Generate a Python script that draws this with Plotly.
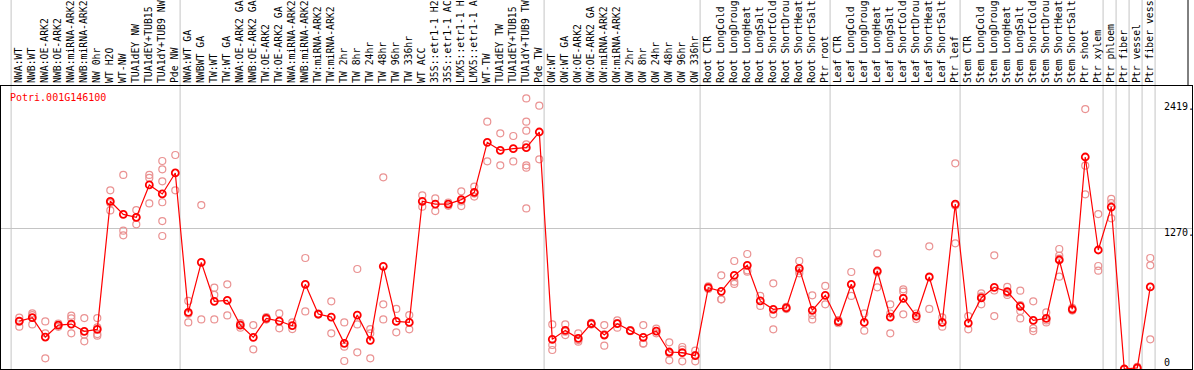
import plotly.graph_objects as go

labels = [
    "NWA:WT", "NWB:WT", "NWA:OE-ARK2", "NWB:OE-ARK2", "NWA:miRNA-ARK2", "NWB:miRNA-ARK2",
    "NW 0hr", "WT H2O", "WT-NW", "TUA1dEY NW", "TUA1dEY+TUB15", "TUA1dY+TUB9 NW", "Pde NW",
    "NWA:WT GA", "NWBWT GA", "TW:WT", "TW:WT GA", "NWA:OE-ARK2 GA", "NWB:OE-ARK2 GA",
    "TW:OE-ARK2", "TW:OE-ARK2 GA", "NWA:miRNA-ARK2", "NWB:miRNA-ARK2", "TW:miRNA-ARK2",
    "TW:miRNA-ARK2", "TW 2hr", "TW 8hr", "TW 24hr", "TW 48hr", "TW 96hr", "TW 336hr", "WT ACC",
    "35S::etr1-1 H2", "35S::etr1-1 AC", "LMX5::etr1-1 H", "LMX5::etr1-1 A", "WT-TW",
    "TUA1dEY TW", "TUA1dEY+TUB15", "TUA1dY+TUB9 TW", "Pde TW",
    "OW:WT", "OW:WT GA", "OW:OE-ARK2", "OW:OE-ARK2 GA", "OW:miRNA-ARK2", "OW:miRNA-ARK2",
    "OW 2hr", "OW 8hr", "OW 24hr", "OW 48hr", "OW 96hr", "OW 336hr",
    "Root CTR", "Root LongCold", "Root LongDroug", "Root LongHeat", "Root LongSalt",
    "Root ShortCold", "Root ShortDrou", "Root ShortHeat", "Root ShortSalt", "Ptr root",
    "Leaf CTR", "Leaf LongCold", "Leaf LongDroug", "Leaf LongHeat", "Leaf LongSalt",
    "Leaf ShortCold", "Leaf ShortDrou", "Leaf ShortHeat", "Leaf ShortSalt", "Ptr leaf",
    "Stem CTR", "Stem LongCold", "Stem LongDroug", "Stem LongHeat", "Stem LongSalt",
    "Stem ShortCold", "Stem ShortDrou", "Stem ShortHeat", "Stem ShortSalt", "Ptr shoot",
    "Ptr xylem", "Ptr phloem", "Ptr fiber", "Ptr vessel", "Ptr fiber vess",
]

group_sizes = [13, 28, 12, 10, 10, 11, 1, 1, 1, 1]

means = [
    432, 462, 288, 396, 405, 339, 357, 1511, 1393, 1366, 1658, 1577, 1766,
    510, 961, 610, 619, 396, 285, 456, 432, 390, 763, 495, 468, 231, 486, 258,
    925, 429, 420, 1511, 1486, 1486, 1526, 1592, 2042, 1970, 1985, 1994, 2135,
    267, 348, 276, 408, 306, 408, 345, 285, 342, 153, 147, 120,
    733, 700, 844, 934, 613, 538, 550, 907, 529, 664,
    426, 763, 420, 883, 468, 637, 477, 829, 420, 1486,
    414, 640, 736, 697, 565, 438, 456, 982, 538, 1910, 1072,
    1459, 0, 10, 739,
]

replicates = [
    [462, 426, 381], [501, 486, 402], [429, 321, 96], [380, 396, 410], [480, 456, 321],
    [459, 249, 310], [459, 375, 315, 300], [1610, 1429, 1495], [1748, 1246, 1204],
    [1432, 1303, 1366], [1748, 1721, 1492], [1874, 1799, 1691, 1502, 1333, 1198], [1928, 1610],
    [613, 420, 497], [1477, 447], [733, 667, 447], [763, 483], [402, 372, 414], [396, 177],
    [445, 456, 467], [501, 366], [420, 360], [1000, 519], [500, 490], [610, 321],
    [420, 201, 72], [901, 402, 150], [360, 321, 96], [1727, 583, 447], [541, 330], [486, 357],
    [1565, 1462], [1538, 1423], [1500, 1470], [1601, 1468, 1510], [1643, 1553, 1580],
    [2228, 1871], [2123, 1835], [2099, 1870], [2438, 2228, 2147, 2024, 1835, 1814, 1447],
    [2372, 1889],
    [402, 216, 171], [402, 306, 336], [321, 246, 261], [400, 416, 408], [396, 210, 312],
    [438, 372, 414], [340, 350, 345], [396, 231, 228], [321, 363], [240, 78, 141],
    [198, 69, 174], [165, 69, 126],
    [745, 721], [844, 628, 628], [973, 787, 766], [1036, 877, 889], [658, 568],
    [772, 493, 357], [540, 560], [973, 862, 886], [664, 486, 447], [748, 583],
    [440, 412], [874, 658], [501, 345], [1042, 736, 871], [583, 321, 500], [718, 697, 493],
    [500, 450], [1105, 541], [465, 381], [1853, 1132, 1473],
    [477, 357], [682, 583, 655], [1024, 477, 707], [739, 667, 685], [706, 523, 456, 575],
    [610, 366, 342], [510, 420, 438], [1081, 1021, 832, 994], [550, 526],
    [2342, 1832, 1574], [1396, 928, 886],
    [1532, 1495, 1357], [0, 0, 0], [20, 10, 0], [1000, 934, 267],
]

gene_id = "Potri.001G146100"
ytick_vals = [0, 1270, 2419]
ytick_text = ["0", "1270.", "2419."]

FONT = "DejaVu Sans Mono"
W, H = 1194, 370
ML, MR, MT, MB = 1, 2, 86, 1
X_RANGE = [-1.408, 90.21]
Y_RANGE = [0, 2549.5]
plot_w = W - ML - MR
plot_h = H - MT - MB

idx = list(range(len(labels)))
rep_x, rep_y = [], []
for i, reps in enumerate(replicates):
    for v in reps:
        rep_x.append(i)
        rep_y.append(v)

fig = go.Figure()
fig.add_trace(go.Scatter(
    x=rep_x, y=rep_y, mode="markers",
    marker=dict(symbol="circle-open", size=7, color="#ea9292", line=dict(width=1.2)),
    hoverinfo="skip", cliponaxis=True,
))
fig.add_trace(go.Scatter(
    x=idx, y=means, mode="lines+markers",
    line=dict(color="#ff0000", width=1.2),
    marker=dict(symbol="circle-open", size=7, color="#ff0000", line=dict(width=1.8)),
    cliponaxis=True,
))


def to_paper_x(xv):
    return (xv - X_RANGE[0]) / (X_RANGE[1] - X_RANGE[0])


def to_paper_y(yv):
    return (yv - Y_RANGE[0]) / (Y_RANGE[1] - Y_RANGE[0])


top_extra = 1 + MT / plot_h
bounds = [0]
for g in group_sizes:
    bounds.append(bounds[-1] + g)
shapes = []
for b in bounds:
    xp = to_paper_x(b - 0.63)
    shapes.append(dict(type="line", xref="paper", yref="paper", x0=xp, x1=xp,
                       y0=0, y1=top_extra, line=dict(color="#c4c4c4", width=1), layer="below"))
xr = (1188 - ML) / plot_w
shapes.append(dict(type="line", xref="paper", yref="paper", x0=xr, x1=xr, y0=1, y1=top_extra,
                   line=dict(color="black", width=1)))

annotations = [dict(
    text=gene_id, xref="paper", yref="paper", x=(9 - ML) / plot_w, y=(H - MB - 97) / plot_h,
    xanchor="left", yanchor="middle", showarrow=False, borderpad=0,
    font=dict(family=FONT, size=10, color="#ff0000"),
)]
xl = (1163 - ML) / plot_w
for v, t in zip(ytick_vals, ytick_text):
    annotations.append(dict(
        text=t, xref="paper", yref="paper", x=xl, y=to_paper_y(v), xanchor="left",
        yanchor="bottom" if v == 0 else "top", yshift=2 if v == 1270 else 0,
        showarrow=False, borderpad=0, font=dict(family=FONT, size=10, color="black"),
    ))

fig.update_layout(
    width=W, height=H, margin=dict(l=ML, r=MR, t=MT, b=MB, pad=0),
    paper_bgcolor="white", plot_bgcolor="white", showlegend=False,
    shapes=shapes, annotations=annotations,
    xaxis=dict(range=X_RANGE, tickmode="array", tickvals=idx, ticktext=labels, side="top",
               tickangle=-90, tickfont=dict(family=FONT, size=9.8, color="black"),
               showgrid=False, zeroline=False, showline=True, mirror=True, linecolor="black",
               linewidth=1, ticks="", automargin=False, fixedrange=True),
    yaxis=dict(range=Y_RANGE, tickmode="array", tickvals=[1270], showticklabels=False,
               showgrid=True, gridcolor="#c4c4c4", gridwidth=1, zeroline=False,
               showline=True, mirror=True, linecolor="black", linewidth=1, ticks="",
               automargin=False, fixedrange=True),
)

fig.write_html(
    "out.html",
    config={"displayModeBar": False, "staticPlot": True},
    post_script="document.body.style.margin='0';document.body.style.overflow='hidden';",
)
